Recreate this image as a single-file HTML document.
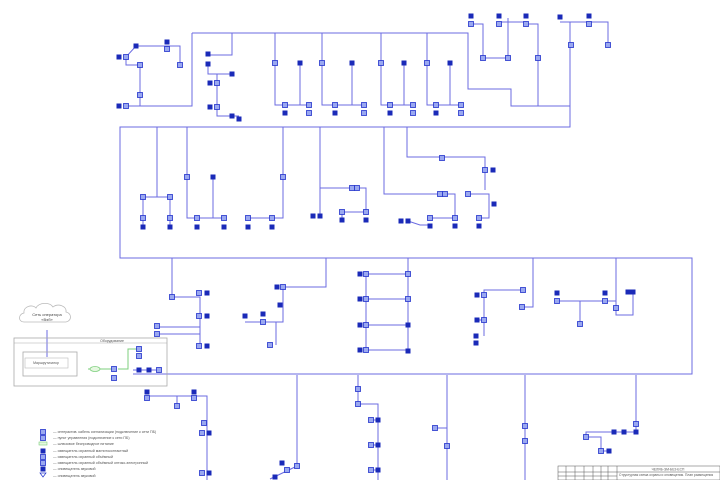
<!DOCTYPE html>
<html><head><meta charset="utf-8"><style>
html,body{margin:0;padding:0;background:#fff;overflow:hidden;}
svg{display:block;font-family:"Liberation Sans","Noto Sans CJK JP",sans-serif;}
</style></head><body>
<svg width="720" height="480" viewBox="0 0 720 480" xmlns="http://www.w3.org/2000/svg">
<defs>
<rect id="f" x="-2.5" y="-2.5" width="5" height="5" fill="#1a2ab8"/>
<rect id="o" x="-2.5" y="-2.5" width="5" height="5" fill="#9aa8f0" stroke="#2233cc" stroke-width="0.8"/>
</defs>
<g fill="none" stroke="#6b6be2" stroke-width="1">
<path d="M192 33H468V89H511V106H570 M192 33V106H127 M570 22V127H120V258H692V374H133"/>
<path d="M126 57V65H140V106 M126 57L136 46H180V65"/>
<path d="M232 33V55H208 M208 64V74H232 M217 74V116H239"/>
<path d="M275 33V105H310 M300 63V105 M322 33V105H364 M352 63V105"/>
<path d="M381 33V105H413 M404 63V105 M427 33V105H461 M450 63V105"/>
<path d="M471 24H483V58H508V18 M499 22H526 M526 24H538V106"/>
<path d="M560 22H608V44"/>
<path d="M157 127V197 M143 197H170 M143 197V227 M170 197V227"/>
<path d="M187 127V218H224 M213 177V218 M283 127V218H248"/>
<path d="M320 127V216 M320 188H366V212H342V220"/>
<path d="M384 127V194H455V218H430 M408 221L420 225H430"/>
<path d="M407 127V157H485V190 M468 194H489V218H479"/>
<path d="M172 258V297H200V327H157 M200 297V346 M157 334H200V346"/>
<path d="M326 258V287H283V322H245 M276 322V345"/>
<path d="M408 258V350 M366 274H408 M366 299H408 M366 325H408 M366 350H408 M366 274V350"/>
<path d="M533 258V307H522 M523 290H484V336 M477 320H484"/>
<path d="M616 258V315H633V292 M557 301H616 M580 301V324"/>
<path d="M147 396H207V480 M177 396V406"/>
<path d="M297 375V466L270 479"/>
<path d="M358 375V404H378V480 M371 420H378 M371 445H378 M371 470H378"/>
<path d="M447 375V480 M435 428H447"/>
<path d="M525 375V480"/>
<path d="M636 375V432H586V437H601V451H609"/>
<path d="M47 330V357"/>
</g>
<path d="M88 369H113 M118 369H128V349H138 M128 369V362" fill="none" stroke="#7ccf7c" stroke-width="1"/>
<ellipse cx="95" cy="369" rx="5" ry="2.5" fill="#e5f7e0" stroke="#7ccf7c" stroke-width="0.8"/>
<path d="M24 322c-6 0-6-8 0-9c-1-7 9-9 12-5c3-6 14-6 17-1c5-4 14-1 13 5c6 1 6 9 0 10z" fill="#fff" stroke="#bbb" stroke-width="0.8"/>
<text x="47" y="316" font-size="4" fill="#444" text-anchor="middle">Сеть оператора</text>
<text x="47" y="321" font-size="4" fill="#444" text-anchor="middle">«Вэб»</text>
<rect x="14" y="338" width="153" height="48" fill="none" stroke="#aaa" stroke-width="0.8"/>
<line x1="14" y1="343" x2="167" y2="343" stroke="#aaa" stroke-width="0.6"/>
<text x="112" y="342" font-size="3.5" fill="#555" text-anchor="middle">Оборудование</text>
<rect x="23" y="352" width="54" height="24" fill="none" stroke="#aaa" stroke-width="0.8"/>
<rect x="25" y="358" width="43" height="10" fill="none" stroke="#bbb" stroke-width="0.6"/>
<text x="46" y="364" font-size="3.5" fill="#555" text-anchor="middle">Маршрутизатор</text>
<line x1="133" y1="370" x2="159" y2="370" stroke="#6b6be2"/>
<g>
<use href="#f" x="119" y="57"/><use href="#o" x="126" y="57"/><use href="#f" x="136" y="46"/><use href="#f" x="167" y="42"/><use href="#o" x="167" y="49"/><use href="#o" x="180" y="65"/><use href="#o" x="140" y="65"/><use href="#o" x="140" y="95"/><use href="#f" x="119" y="106"/><use href="#o" x="126" y="106"/>
<use href="#f" x="208" y="54"/><use href="#f" x="208" y="64"/><use href="#f" x="232" y="74"/><use href="#f" x="210" y="83"/><use href="#o" x="217" y="83"/><use href="#f" x="210" y="107"/><use href="#o" x="217" y="107"/><use href="#f" x="232" y="116"/><use href="#f" x="239" y="119"/>
<use href="#o" x="275" y="63"/><use href="#f" x="300" y="63"/><use href="#o" x="285" y="105"/><use href="#f" x="285" y="113"/><use href="#o" x="309" y="105"/><use href="#o" x="309" y="113"/>
<use href="#o" x="322" y="63"/><use href="#f" x="352" y="63"/><use href="#o" x="335" y="105"/><use href="#f" x="335" y="113"/><use href="#o" x="364" y="105"/><use href="#o" x="364" y="113"/>
<use href="#o" x="381" y="63"/><use href="#f" x="404" y="63"/><use href="#o" x="390" y="105"/><use href="#f" x="390" y="113"/><use href="#o" x="413" y="105"/><use href="#o" x="413" y="113"/>
<use href="#o" x="427" y="63"/><use href="#f" x="450" y="63"/><use href="#o" x="436" y="105"/><use href="#f" x="436" y="113"/><use href="#o" x="461" y="105"/><use href="#o" x="461" y="113"/>
<use href="#f" x="471" y="16"/><use href="#o" x="471" y="24"/><use href="#o" x="483" y="58"/><use href="#o" x="508" y="58"/><use href="#f" x="499" y="16"/><use href="#o" x="499" y="24"/><use href="#f" x="526" y="16"/><use href="#o" x="526" y="24"/><use href="#o" x="538" y="58"/>
<use href="#f" x="560" y="17"/><use href="#f" x="589" y="16"/><use href="#o" x="589" y="24"/><use href="#o" x="608" y="45"/><use href="#o" x="571" y="45"/>
<use href="#o" x="143" y="197"/><use href="#o" x="170" y="197"/><use href="#o" x="143" y="218"/><use href="#f" x="143" y="227"/><use href="#o" x="170" y="218"/><use href="#f" x="170" y="227"/>
<use href="#o" x="187" y="177"/><use href="#f" x="213" y="177"/><use href="#o" x="197" y="218"/><use href="#f" x="197" y="227"/><use href="#o" x="224" y="218"/><use href="#f" x="224" y="227"/>
<use href="#o" x="283" y="177"/><use href="#o" x="248" y="218"/><use href="#f" x="248" y="227"/><use href="#o" x="272" y="218"/><use href="#f" x="272" y="227"/>
<use href="#o" x="352" y="188"/><use href="#o" x="357" y="188"/><use href="#f" x="313" y="216"/><use href="#f" x="320" y="216"/><use href="#o" x="342" y="212"/><use href="#f" x="342" y="220"/><use href="#o" x="366" y="212"/><use href="#f" x="366" y="220"/>
<use href="#o" x="440" y="194"/><use href="#o" x="445" y="194"/><use href="#o" x="430" y="218"/><use href="#f" x="430" y="226"/><use href="#o" x="455" y="218"/><use href="#f" x="455" y="226"/><use href="#f" x="401" y="221"/><use href="#f" x="408" y="221"/>
<use href="#o" x="442" y="158"/><use href="#o" x="485" y="170"/><use href="#f" x="493" y="170"/><use href="#o" x="468" y="194"/><use href="#f" x="494" y="204"/><use href="#o" x="479" y="218"/><use href="#f" x="479" y="226"/>
<use href="#o" x="172" y="297"/><use href="#o" x="199" y="293"/><use href="#f" x="207" y="293"/><use href="#o" x="199" y="316"/><use href="#f" x="207" y="316"/><use href="#o" x="157" y="326"/><use href="#o" x="157" y="334"/><use href="#o" x="199" y="346"/><use href="#f" x="207" y="346"/>
<use href="#f" x="277" y="287"/><use href="#o" x="283" y="287"/><use href="#f" x="280" y="305"/><use href="#f" x="245" y="316"/><use href="#f" x="263" y="314"/><use href="#o" x="263" y="322"/><use href="#o" x="270" y="345"/>
<use href="#f" x="360" y="274"/><use href="#o" x="366" y="274"/><use href="#o" x="408" y="274"/><use href="#f" x="360" y="299"/><use href="#o" x="366" y="299"/><use href="#o" x="408" y="299"/><use href="#f" x="360" y="325"/><use href="#o" x="366" y="325"/><use href="#f" x="408" y="325"/><use href="#f" x="360" y="350"/><use href="#o" x="366" y="350"/><use href="#f" x="408" y="351"/>
<use href="#o" x="522" y="307"/><use href="#o" x="523" y="290"/><use href="#f" x="477" y="295"/><use href="#o" x="484" y="295"/><use href="#f" x="477" y="320"/><use href="#o" x="484" y="320"/><use href="#f" x="476" y="336"/><use href="#f" x="476" y="343"/>
<use href="#f" x="628" y="292"/><use href="#f" x="633" y="292"/><use href="#f" x="557" y="293"/><use href="#o" x="557" y="301"/><use href="#f" x="605" y="293"/><use href="#o" x="605" y="301"/><use href="#o" x="616" y="308"/><use href="#o" x="580" y="324"/>
<use href="#f" x="139" y="370"/><use href="#f" x="149" y="370"/><use href="#o" x="159" y="370"/><use href="#o" x="114" y="369"/><use href="#o" x="114" y="378"/><use href="#o" x="139" y="349"/><use href="#o" x="139" y="356"/>
<use href="#f" x="147" y="392"/><use href="#o" x="147" y="398"/><use href="#f" x="194" y="392"/><use href="#o" x="194" y="398"/><use href="#o" x="177" y="406"/><use href="#o" x="204" y="423"/><use href="#o" x="202" y="433"/><use href="#f" x="209" y="433"/><use href="#o" x="202" y="473"/><use href="#f" x="209" y="473"/>
<use href="#o" x="297" y="466"/><use href="#f" x="282" y="463"/><use href="#o" x="287" y="470"/><use href="#f" x="275" y="477"/>
<use href="#o" x="358" y="389"/><use href="#o" x="358" y="404"/><use href="#o" x="371" y="420"/><use href="#f" x="378" y="420"/><use href="#o" x="371" y="445"/><use href="#f" x="378" y="445"/><use href="#o" x="371" y="470"/><use href="#f" x="378" y="470"/>
<use href="#o" x="435" y="428"/><use href="#o" x="447" y="446"/><use href="#o" x="525" y="426"/><use href="#o" x="525" y="441"/>
<use href="#o" x="636" y="424"/><use href="#f" x="614" y="432"/><use href="#f" x="624" y="432"/><use href="#f" x="636" y="432"/><use href="#o" x="586" y="437"/><use href="#o" x="601" y="451"/><use href="#f" x="609" y="451"/>
</g>
<g font-size="3.6" fill="#555">
<use href="#o" x="43" y="432"/><text x="53" y="433">— интерактив. кабель сигнализации (подключение к сети ПБ)</text>
<use href="#o" x="43" y="438"/><text x="53" y="439">— пункт управления (подключение к сети ПБ)</text>
<rect x="39" y="442" width="8" height="3" fill="#e5f7e0" stroke="#7ccf7c" stroke-width="0.6"/><text x="53" y="445">— шлюзовое беспроводное питание</text>
<use href="#f" x="43" y="451"/><text x="53" y="452">— извещатель охранный магнитоконтактный</text>
<use href="#o" x="43" y="457"/><text x="53" y="458">— извещатель охранный объёмный</text>
<use href="#o" x="43" y="463"/><text x="53" y="464">— извещатель охранный объёмный оптико-электронный</text>
<use href="#f" x="43" y="469"/><text x="53" y="470">— оповещатель звуковой</text>
<path d="M40 473H46L43 477Z" fill="none" stroke="#2233cc" stroke-width="0.7"/><text x="53" y="477">— оповещатель звуковой</text>
</g>
<g stroke="#555" stroke-width="0.5" fill="none">
<rect x="558" y="466" width="162" height="14"/>
<path d="M558 472H617 M558 476H617 M617 472H720 M566 466V480 M575 466V480 M584 466V480 M593 466V480 M601 466V480 M608 466V480 M617 466V480"/>
</g>
<text x="668" y="470.5" font-size="3.3" fill="#555" text-anchor="middle">ЧЕЛЯБ-ЭМ-БЕЗ-ЕСП</text>
<text x="619" y="476" font-size="3.3" fill="#555">Структурная схема охраны и оповещения. План размещения</text>
</svg>
</body></html>
